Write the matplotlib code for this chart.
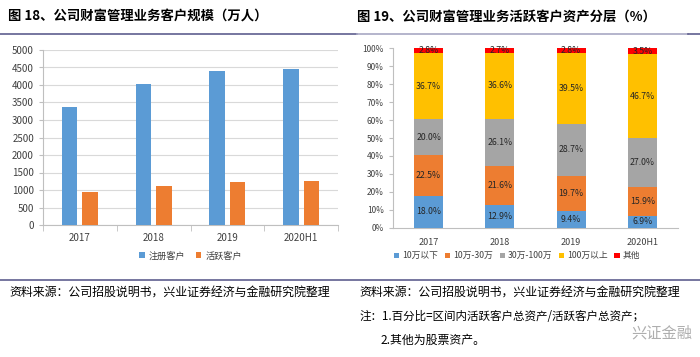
import matplotlib
matplotlib.use("Agg")
import matplotlib.pyplot as plt
from matplotlib.lines import Line2D
import numpy as np

plt.rcParams['font.family'] = ['Noto Sans CJK SC', 'DejaVu Sans']

# left chart data (万人)
years = ["2017", "2018", "2019", "2020H1"]
registered = [3380, 4030, 4400, 4460]
active = [950, 1110, 1240, 1270]

# right chart data (%)
tiers = ["10万以下", "10万-30万", "30万-100万", "100万以上", "其他"]
below_10 = [18.0, 12.9, 9.4, 6.9]
t10_30 = [22.5, 21.6, 19.7, 15.9]
t30_100 = [20.0, 26.1, 28.7, 27.0]
above_100 = [36.7, 36.6, 39.5, 46.7]
others = [2.8, 2.7, 2.8, 3.5]

BLUE = "#5B9BD5"
ORANGE = "#ED7D31"
GREY = "#A5A5A5"
YELLOW = "#FFC000"
RED = "#FF0000"
AXIS = "#BFBFBF"

W, H = 700, 357
fig = plt.figure(figsize=(W / 100, H / 100), dpi=100)


def box(x0, y0, x1, y1):
    # pixel box (top-left origin) -> figure fraction
    return [x0 / W, 1 - y1 / H, (x1 - x0) / W, (y1 - y0) / H]


# titles and rules
fig.text(8 / W, 1 - 17 / H, "图 18、公司财富管理业务客户规模（万人）",
         fontsize=9.6, fontweight="bold", va="center", ha="left")
fig.text(357 / W, 1 - 17 / H, "图 19、公司财富管理业务活跃客户资产分层（%）",
         fontsize=9.6, fontweight="bold", va="center", ha="left")
fig.add_artist(Line2D([0, 357 / W], [1 - 34 / H] * 2, color="#5f5f8f", lw=1.2))
fig.add_artist(Line2D([357 / W, 688 / W], [1 - 34 / H] * 2, color="#a8a8c4", lw=1.2))
fig.add_artist(Line2D([688 / W, 1], [1 - 34 / H] * 2, color="#5f5f8f", lw=1.2))
fig.add_artist(Line2D([0, 1], [1 - 280 / H] * 2, color="#5f5f8f", lw=1.2))

# ---- left chart
ax1 = fig.add_axes(box(43, 50, 338, 225))
x = np.arange(len(years))
bw = 0.21
ax1.bar(x - 0.14, registered, bw, color=BLUE, label="注册客户", zorder=3)
ax1.bar(x + 0.14, active, bw, color=ORANGE, label="活跃客户", zorder=3)
ax1.set_xlim(-0.5, 3.5)
ax1.set_ylim(0, 5000)
ax1.set_yticks(np.arange(0, 5001, 500))
ax1.yaxis.grid(True, color="#D9D9D9", lw=0.8, zorder=0)
ax1.set_xticks(x)
ax1.set_xticklabels(years)
ax1.set_xticks(np.arange(-0.5, 3.6, 1), minor=True)
ax1.tick_params(axis="x", which="major", length=0, labelsize=7, pad=6, colors="#404040")
ax1.tick_params(axis="x", which="minor", length=4, color=AXIS)
ax1.tick_params(axis="y", labelsize=7, length=3, colors="#404040")
ax1.tick_params(axis="y", color=AXIS)
for s in ["top", "right"]:
    ax1.spines[s].set_visible(False)
for s in ["left", "bottom"]:
    ax1.spines[s].set_color(AXIS)
ax1.legend(loc="center", bbox_to_anchor=(0.5, -0.177), ncol=2, frameon=False,
           fontsize=6.6, handlelength=0.6, handleheight=0.6, columnspacing=1.2,
           handletextpad=0.4, labelcolor="#404040")

# ---- right chart
ax2 = fig.add_axes(box(393, 48, 678, 228))
series = [below_10, t10_30, t30_100, above_100, others]
colors = [BLUE, ORANGE, GREY, YELLOW, RED]
bottom = np.zeros(len(years))
bw2 = 0.41
for name, vals, c in zip(tiers, series, colors):
    vals = np.array(vals)
    ax2.bar(x, vals, bw2, bottom=bottom, color=c, label=name, zorder=3)
    for xi, b, v in zip(x, bottom, vals):
        ax2.text(xi, b + v / 2, f"{v:.1f}%", ha="center", va="center",
                 fontsize=6.3, color="#262626", zorder=4)
    bottom = bottom + vals
ax2.set_xlim(-0.5, 3.5)
ax2.set_ylim(0, 100)
ax2.set_yticks(np.arange(0, 101, 10))
ax2.set_yticklabels([f"{v}%" for v in range(0, 101, 10)])
ax2.set_xticks(x)
ax2.set_xticklabels(years)
ax2.tick_params(axis="x", length=0, labelsize=6.5, pad=7, colors="#404040")
ax2.tick_params(axis="y", labelsize=6, length=3, colors="#404040")
ax2.tick_params(axis="y", color=AXIS)
for s in ["top", "right"]:
    ax2.spines[s].set_visible(False)
for s in ["left", "bottom"]:
    ax2.spines[s].set_color(AXIS)
ax2.legend(loc="center", bbox_to_anchor=(0.435, -0.155), ncol=5, frameon=False,
           fontsize=6.3, handlelength=0.6, handleheight=0.6, columnspacing=0.8,
           handletextpad=0.3, labelcolor="#404040")

# footnotes
src = "资料来源：公司招股说明书，兴业证券经济与金融研究院整理"
fig.text(9 / W, 1 - 293 / H, src, fontsize=8.6, va="center", ha="left")
fig.text(359 / W, 1 - 293 / H, src, fontsize=8.6, va="center", ha="left")
fig.text(359 / W, 1 - 316 / H, "注：1.百分比=区间内活跃客户总资产/活跃客户总资产；",
         fontsize=8.3, va="center", ha="left")
fig.text(381 / W, 1 - 340 / H, "2.其他为股票资产。", fontsize=8.6, va="center", ha="left")
fig.text(692 / W, 1 - 333 / H, "兴证金融", fontsize=11, va="center", ha="right",
         color="#9a9a9a", alpha=0.8)

fig.savefig("out.png", dpi=100)
